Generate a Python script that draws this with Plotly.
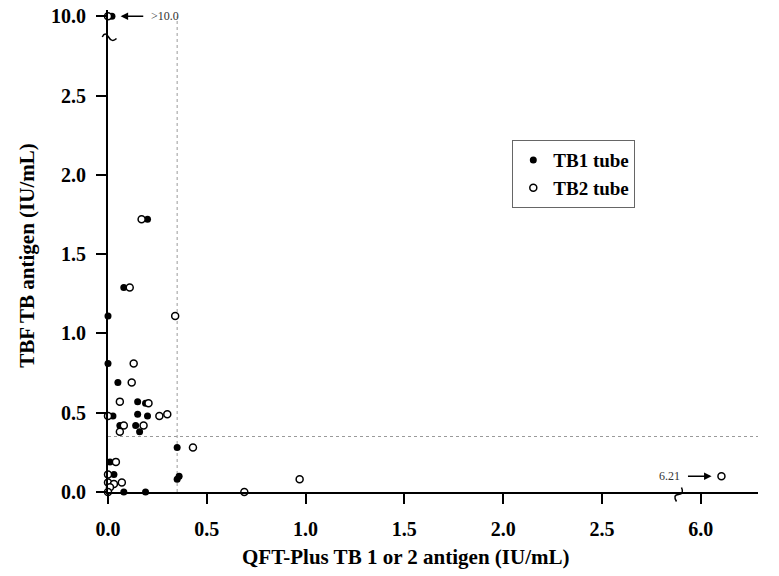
import plotly.graph_objects as go

# ---- data (IU/mL) ----
tb1_x = [0.02, 0.20, 0.08, 0.00, 0.00, 0.05, 0.15, 0.19, 0.025, 0.15, 0.20, 0.06, 0.14, 0.16,
         0.35, 0.01, 0.03, 0.35, 0.36, 0.08, 0.19]
tb1_y = [10.0, 1.72, 1.29, 1.11, 0.81, 0.69, 0.57, 0.56, 0.48, 0.49, 0.48, 0.42, 0.42, 0.38,
         0.28, 0.19, 0.11, 0.08, 0.10, 0.00, 0.00]
tb2_x = [0.00, 0.17, 0.11, 0.34, 0.13, 0.12, 0.06, 0.205, 0.00, 0.26, 0.30, 0.08, 0.18, 0.06,
         0.43, 0.04, 0.00, 0.00, 0.07, 0.03, 0.01, 0.00, 0.69, 0.97, 6.21]
tb2_y = [10.0, 1.72, 1.29, 1.11, 0.81, 0.69, 0.57, 0.56, 0.48, 0.48, 0.49, 0.42, 0.42, 0.38,
         0.28, 0.19, 0.11, 0.06, 0.06, 0.05, 0.03, 0.00, 0.00, 0.08, 0.10]
cutoff = 0.35
x_ticks = [0.0, 0.5, 1.0, 1.5, 2.0, 2.5, 6.0]
y_ticks = [0.0, 0.5, 1.0, 1.5, 2.0, 2.5, 10.0]
x_tick_labels = ["0.0", "0.5", "1.0", "1.5", "2.0", "2.5", "6.0"]
y_tick_labels = ["0.0", "0.5", "1.0", "1.5", "2.0", "2.5", "10.0"]


# broken-axis transforms
def xpos(v):
    return v if v <= 2.5 else 3.0 + (v - 6.0) * 0.5


def ypos(v):
    return v if v <= 2.5 else 3.0 + (v - 10.0) * 0.5


SERIF = "Liberation Serif"
XMAX = 3.29
YMAX = 3.04
PLOT_W, PLOT_H = 650.0, 482.0
X0PX, Y0PX = 108.0, 492.0  # pixel position of plot origin


# helpers for decoration (break marks) expressed in pixels
def px_to_xdata(px):
    return (px - X0PX) / PLOT_W * XMAX


def px_to_xpaper(px):
    return (px - X0PX) / PLOT_W


def py_to_ydata(py):
    return (Y0PX - py) / PLOT_H * YMAX


def py_to_ypaper(py):
    return (Y0PX - py) / PLOT_H


fig = go.Figure()
fig.add_trace(go.Scatter(
    x=[xpos(v) for v in tb1_x], y=[ypos(v) for v in tb1_y], mode="markers",
    name="TB1 tube", cliponaxis=False,
    marker=dict(symbol="circle", size=7, color="black", line=dict(width=0))))
fig.add_trace(go.Scatter(
    x=[xpos(v) for v in tb2_x], y=[ypos(v) for v in tb2_y], mode="markers",
    name="TB2 tube", cliponaxis=False,
    marker=dict(symbol="circle", size=7, color="white", line=dict(width=1.5, color="black"))))

# cutoff reference lines
fig.add_shape(type="line", xref="x", yref="y", x0=cutoff, x1=cutoff, y0=0, y1=3.0,
              line=dict(color="#9a9a9a", width=1, dash="dot"), layer="below")
fig.add_shape(type="line", xref="x", yref="y", x0=0, x1=XMAX, y0=cutoff, y1=cutoff,
              line=dict(color="#9a9a9a", width=1, dash="dot"), layer="below")

# y-axis break mark (tilde across the axis)
pts = [(102.3, 37.0), (105.0, 31.0), (108.5, 37.0), (116.5, 38.5)]
ypath = "M {:.4f},{:.4f} Q {:.4f},{:.4f} {:.4f},{:.4f} T {:.4f},{:.4f}".format(
    *[v for p in pts for v in (px_to_xpaper(p[0]), py_to_ydata(p[1]))])
fig.add_shape(type="path", xref="paper", yref="y", path=ypath,
              line=dict(color="black", width=1.5), layer="above")
# x-axis break mark (vertical s-curve across the axis)
pts = [(681.5, 487.5), (684.5, 494.0), (678.5, 494.5), (676.5, 501.5)]
xpath = "M {:.4f},{:.4f} Q {:.4f},{:.4f} {:.4f},{:.4f} T {:.4f},{:.4f}".format(
    *[v for p in pts for v in (px_to_xdata(p[0]), py_to_ypaper(p[1]))])
fig.add_shape(type="path", xref="x", yref="paper", path=xpath,
              line=dict(color="black", width=1.5), layer="above")

# >10.0 label + arrow
fig.add_annotation(x=0.064, y=3.0, ax=0.186, ay=3.0, xref="x", yref="y", axref="x", ayref="y",
                   text="", showarrow=True, arrowhead=2, arrowsize=1, arrowwidth=1.5,
                   arrowcolor="black")
fig.add_annotation(x=0.21, y=3.0, xref="x", yref="y", text="&gt;10.0", showarrow=False,
                   xanchor="left", font=dict(family=SERIF, size=12, color="#333"))
# 6.21 label + arrow
fig.add_annotation(x=3.055, y=0.1, ax=2.928, ay=0.1, xref="x", yref="y", axref="x", ayref="y",
                   text="", showarrow=True, arrowhead=2, arrowsize=1, arrowwidth=1.5,
                   arrowcolor="black")
fig.add_annotation(x=2.905, y=0.1, xref="x", yref="y", text="6.21", showarrow=False,
                   xanchor="right", font=dict(family=SERIF, size=12, color="#333"))

# axis titles
fig.add_annotation(x=0.458, y=-0.135, xref="paper", yref="paper",
                   text="QFT-Plus TB 1 or 2 antigen (IU/mL)", showarrow=False,
                   xanchor="center", yanchor="middle",
                   font=dict(family=SERIF, size=21, color="black", weight="bold"))
fig.add_annotation(x=-0.1246, y=0.49, xref="paper", yref="paper",
                   text="TBF TB antigen (IU/mL)", showarrow=False, textangle=-90,
                   xanchor="center", yanchor="middle",
                   font=dict(family=SERIF, size=21, color="black", weight="bold"))

axis_common = dict(showline=True, linecolor="black", linewidth=2, ticks="outside",
                   ticklen=10, tickwidth=2, tickcolor="black", showgrid=False, zeroline=False,
                   ticklabeloverflow="allow",
                   tickfont=dict(family=SERIF, size=20, color="black", weight="bold"))
fig.update_xaxes(range=[0, XMAX], tickvals=[xpos(v) for v in x_ticks], ticktext=x_tick_labels,
                 ticklabelstandoff=8, **axis_common)
fig.update_yaxes(range=[0, YMAX], tickvals=[ypos(v) for v in y_ticks], ticktext=y_tick_labels,
                 ticklabelstandoff=6, **axis_common)

fig.update_layout(
    width=779, height=576,
    margin=dict(l=108, r=21, t=10, b=84, autoexpand=False),
    plot_bgcolor="white", paper_bgcolor="white",
    showlegend=True,
    legend=dict(x=0.622, y=0.73, xanchor="left", yanchor="top",
                bordercolor="#666", borderwidth=1, bgcolor="white",
                itemwidth=30, tracegroupgap=0,
                font=dict(family=SERIF, size=19, color="black", weight="bold")),
)

# remove the default 8px body margin so the figure fills the window exactly
fig.write_html("out.html", config={"displayModeBar": False},
               post_script="document.body.style.margin='0';document.body.style.overflow='hidden';")
